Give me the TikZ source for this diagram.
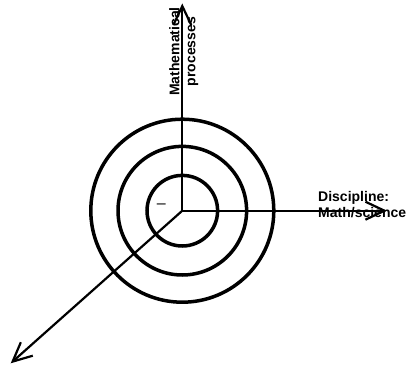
\documentclass[tikz,border=0pt]{standalone}
\usepackage{fontspec}
\setmainfont{Liberation Sans}
\usetikzlibrary{calc, positioning, arrows.meta}

\begin{document}
\begin{tikzpicture}[x=1pt, y=-1pt,
    ring/.style={line width=3.5pt},
    axis/.style={line width=2.2pt, -{Straight Barb[length=19pt, width=18pt, line width=2.2pt]}},
    lbl/.style={font=\fontsize{14}{16}\selectfont\bfseries, inner sep=0pt, align=left}]
  \useasboundingbox (0,0) rectangle (407,369);
  % origin and axis ends
  \coordinate (o) at (182.3,210.7);
  \coordinate (up) at (182.3,3.5);
  \coordinate (right) at (387,210.7);
  \coordinate (down) at (10.7,363.3);
  % rings
  \draw[ring] (o) circle[radius=35.3pt];
  \draw[ring] (o) circle[radius=64.3pt];
  \draw[ring] (o) circle[radius=91.5pt];
  % axes
  \draw[axis] (o) -- (up);
  \draw[axis] (o) -- (right);
  \draw[axis] (o) -- (down);
  % labels
  \node[lbl, align=center, rotate=90] (maths) at (183.7,51.5) {Mathematical\\processes};
  \node[lbl, anchor=west] (disc) at (318,204.3) {Discipline:\\Math/science};
  \node[inner sep=0pt, font=\fontsize{16}{16}\selectfont] (dash) at (161.3,206) {–};
\end{tikzpicture}
\end{document}
